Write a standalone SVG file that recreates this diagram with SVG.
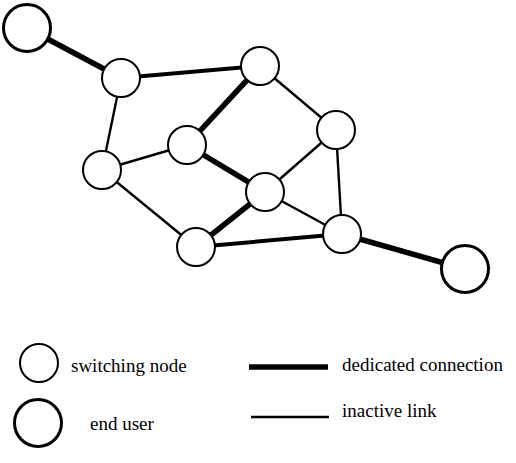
<svg xmlns="http://www.w3.org/2000/svg" width="516" height="463" viewBox="0 0 516 463">
<style>
.sw{fill:#fff;stroke:#000;stroke-width:2}
.eu{fill:#fff;stroke:#000;stroke-width:3}
.ded{stroke:#000;stroke-width:5.5}
.med{stroke:#000;stroke-width:4}
.thin{stroke:#000;stroke-width:2.4}
text{font-family:"Liberation Serif","Times New Roman",serif;font-size:19px;fill:#000}
</style>
<rect width="516" height="463" fill="#fff"/>
<g id="connectors">
<line class="ded" x1="27" y1="28" x2="121" y2="78"/>
<line class="med" x1="121" y1="78" x2="260" y2="66"/>
<line class="ded" x1="260" y1="66" x2="187" y2="145"/>
<line class="ded" x1="187" y1="145" x2="265" y2="192"/>
<line class="ded" x1="265" y1="192" x2="196" y2="247"/>
<line class="med" x1="196" y1="247" x2="342" y2="234"/>
<line class="ded" x1="342" y1="234" x2="465" y2="269"/>
<line class="thin" x1="121" y1="78" x2="102" y2="170"/>
<line class="thin" x1="102" y1="170" x2="187" y2="145"/>
<line class="thin" x1="102" y1="170" x2="196" y2="247"/>
<line class="thin" x1="260" y1="66" x2="336" y2="130"/>
<line class="thin" x1="336" y1="130" x2="265" y2="192"/>
<line class="thin" x1="336" y1="130" x2="342" y2="234"/>
<line class="thin" x1="265" y1="192" x2="342" y2="234"/>
</g>
<g id="user1"><circle class="eu" cx="27" cy="28" r="23.5"/></g>
<g id="user2"><circle class="eu" cx="465" cy="269" r="23.5"/></g>
<g id="nA"><circle class="sw" cx="121" cy="78" r="19"/></g>
<g id="nB"><circle class="sw" cx="102" cy="170" r="19"/></g>
<g id="nC"><circle class="sw" cx="187" cy="145" r="19"/></g>
<g id="nD"><circle class="sw" cx="196" cy="247" r="19"/></g>
<g id="nE"><circle class="sw" cx="260" cy="66" r="19"/></g>
<g id="nF"><circle class="sw" cx="336" cy="130" r="19"/></g>
<g id="nG"><circle class="sw" cx="265" cy="192" r="19"/></g>
<g id="nH"><circle class="sw" cx="342" cy="234" r="19"/></g>
<g id="legend">
<circle class="sw" cx="39" cy="363" r="19"/>
<text x="71" y="372">switching node</text>
<circle class="eu" cx="38" cy="423" r="23.5"/>
<text x="90" y="430">end user</text>
<line class="ded" x1="249" y1="367" x2="328" y2="367"/>
<text x="342" y="371">dedicated connection</text>
<line class="thin" x1="251" y1="417" x2="329" y2="417"/>
<text x="342" y="417">inactive link</text>
</g>
</svg>
